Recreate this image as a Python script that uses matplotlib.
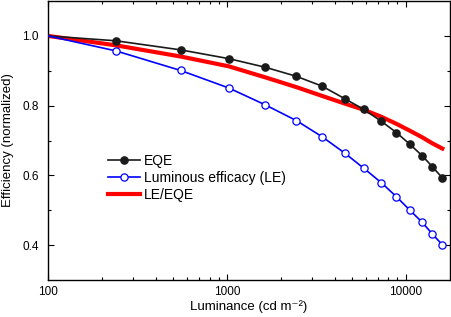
import numpy as np
import matplotlib
matplotlib.use("Agg")
import matplotlib.pyplot as plt
from matplotlib.ticker import LogLocator, FixedLocator, FixedFormatter, NullFormatter

plt.rcParams['font.family'] = ['Liberation Sans', 'DejaVu Sans']

# luminance (cd m-2)
lum = [100, 240, 551, 1022, 1645, 2452, 3407, 4562, 5848, 7314, 8872, 10568, 12398, 14094, 16032]
eqe = [1.0, 0.986, 0.960, 0.935, 0.910, 0.884, 0.856, 0.820, 0.789, 0.755, 0.723, 0.689, 0.656, 0.625, 0.593]
le = [1.0, 0.957, 0.901, 0.851, 0.802, 0.757, 0.711, 0.664, 0.620, 0.579, 0.539, 0.500, 0.465, 0.432, 0.401]
le_eqe = [1.0, 0.973, 0.941, 0.913, 0.881, 0.853, 0.828, 0.806, 0.788, 0.768, 0.748, 0.728, 0.709, 0.692, 0.677]

fig = plt.figure(figsize=(4.52, 3.17), dpi=100)
ax = fig.add_axes([0.1062, 0.1167, 0.8894, 0.88])

ax.plot(lum, eqe, color='#1a1a1a', lw=1.2, marker='o', ms=5.2, mfc='#1a1a1a', mec='#1a1a1a',
        markevery=slice(1, None), label='EQE', zorder=3)
ax.plot(lum, le, color='#0000ff', lw=1.2, marker='o', ms=5.2, mfc='white', mec='#0000ff', mew=0.9,
        markevery=slice(1, None), label='Luminous efficacy (LE)', zorder=3)
ax.plot(lum, le_eqe, color='#ff0000', lw=3.0, label='LE/EQE', zorder=2)

ax.set_xscale('log')
ax.set_xlim(100, 17700)
ax.set_ylim(0.3, 1.1)

ax.xaxis.set_major_locator(FixedLocator([100, 1000, 10000]))
ax.xaxis.set_major_formatter(FixedFormatter(['100', '1000', '10000']))
ax.xaxis.set_minor_locator(LogLocator(base=10, subs=np.arange(2, 10)))
ax.xaxis.set_minor_formatter(NullFormatter())
ax.yaxis.set_major_locator(FixedLocator([0.4, 0.6, 0.8, 1.0]))
ax.yaxis.set_major_formatter(FixedFormatter(['0.4', '0.6', '0.8', '1.0']))
ax.yaxis.set_minor_locator(FixedLocator([0.5, 0.7, 0.9]))

ax.tick_params(which='both', direction='in', top=True, right=True, labelsize=8.5, width=0.8)
ax.tick_params(which='major', length=4.5)
ax.tick_params(which='minor', length=2.5)
ax.tick_params(axis='y', pad=6.5)
ax.tick_params(axis='x', pad=4)
for s in ax.spines.values():
    s.set_linewidth(1.0)

ax.set_xlabel('Luminance (cd m\u207b\u00b2)', fontsize=9.5, va='top')
ax.xaxis.set_label_coords(0.5, -0.072)
ax.set_ylabel('Efficiency (normalized)', fontsize=9.5, labelpad=6)

ax.legend(loc='upper left', bbox_to_anchor=(0.132, 0.476), frameon=False, fontsize=10,
          handlelength=2.3, handletextpad=0.3, labelspacing=0.2, borderpad=0)

fig.savefig('out.png', dpi=100)
